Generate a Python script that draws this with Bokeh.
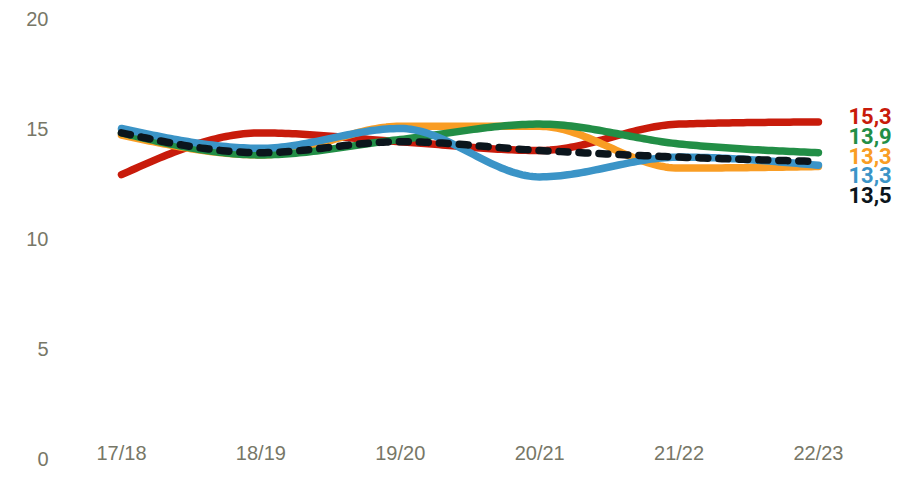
import numpy as np
from bokeh.plotting import figure
from bokeh.models import FixedTicker, Range1d, ColumnDataSource
from bokeh.core.properties import value
from bokeh.embed import file_html
from bokeh.resources import INLINE

# ---- data ----
seasons = ["17/18", "18/19", "19/20", "20/21", "21/22", "22/23"]
red = [12.9, 14.8, 14.4, 14.0, 15.2, 15.3]
orange = [14.7, 13.8, 15.1, 15.1, 13.2, 13.27]
green = [14.8, 13.8, 14.5, 15.2, 14.3, 13.9]
blue = [15.0, 14.1, 15.0, 12.8, 13.7, 13.33]
black = [14.8, 13.9, 14.4, 14.0, 13.7, 13.5]
y_ticks = [0, 5, 10, 15, 20]

series = [
    ("red", red, "#c81b0b"),
    ("orange", orange, "#f99d24"),
    ("green", green, "#228e46"),
    ("blue", blue, "#3b94c7"),
]
label_order = [(red, "#c81b0b"), (green, "#228e46"), (orange, "#f99d24"),
               (blue, "#3b94c7"), (black, "#0b151c")]


def monotone_curve(ys, n=40):
    """Render a monotone-x cubic curve through the points (like d3.curveMonotoneX)."""
    x = np.arange(len(ys), dtype=float)
    y = np.asarray(ys, dtype=float)
    h = np.diff(x)
    s = np.diff(y) / h
    t = np.zeros(len(y))
    for i in range(1, len(y) - 1):
        p = (s[i - 1] * h[i] + s[i] * h[i - 1]) / (h[i - 1] + h[i])
        t[i] = (np.sign(s[i - 1]) + np.sign(s[i])) * min(abs(s[i - 1]), abs(s[i]), 0.5 * abs(p))
    t[0] = (3 * s[0] - t[1]) / 2
    t[-1] = (3 * s[-1] - t[-2]) / 2
    xs, out = [], []
    for i in range(len(y) - 1):
        u = np.linspace(0, 1, n, endpoint=(i == len(y) - 2))
        h00 = 2 * u**3 - 3 * u**2 + 1
        h10 = u**3 - 2 * u**2 + u
        h01 = -2 * u**3 + 3 * u**2
        h11 = u**3 - u**2
        xs.extend(x[i] + u * h[i])
        out.extend(h00 * y[i] + h10 * h[i] * t[i] + h01 * y[i + 1] + h11 * h[i] * t[i + 1])
    return xs, out


def spread(vals, gap):
    clusters = []
    for i, v in enumerate(vals):
        clusters.append([[i], v])
        while len(clusters) > 1:
            a, b = clusters[-2], clusters[-1]
            a_bottom = a[1] - (len(a[0]) - 1) / 2 * gap
            b_top = b[1] + (len(b[0]) - 1) / 2 * gap
            if a_bottom - b_top < gap - 1e-9:
                idx = a[0] + b[0]
                clusters[-2:] = [[idx, float(np.mean([vals[k] for k in idx]))]]
            else:
                break
    pos = [0.0] * len(vals)
    for idx, m in clusters:
        n = len(idx)
        for j, k in enumerate(idx):
            pos[k] = m + ((n - 1) / 2 - j) * gap
    return pos


p = figure(width=907, height=484, output_backend="svg", toolbar_location=None,
           x_range=Range1d(-0.452, 5.567), y_range=Range1d(0, 20),
           min_border_left=58, min_border_right=10, min_border_top=18, min_border_bottom=26)
p.outline_line_color = None
p.grid.visible = False
p.background_fill_color = "white"
p.border_fill_color = "white"

for name, ys, col in series:
    xs, cy = monotone_curve(ys)
    p.line(xs, cy, line_color=col, line_width=7.5, line_cap="round", line_join="round")

xs, cy = monotone_curve(black)
p.line(xs, cy, line_color="#0b151c", line_width=7.5, line_dash="9 11",
       line_cap="round", line_join="round")

last = len(seasons) - 1
lab_vals = [v[-1] for v, c in label_order]
lab_pos = spread(lab_vals, 0.9)
src = ColumnDataSource(dict(
    x=[last] * len(label_order), y=lab_pos,
    t=[f"{v:.1f}".replace(".", ",") for v in lab_vals],
    c=[c for v, c in label_order]))
p.text(x="x", y="y", text="t", text_color="c", source=src, x_offset=30, y_offset=2,
       text_font=value("Roboto"), text_font_style="bold", text_font_size="22px",
       text_baseline="middle", text_align="left")

p.xaxis.ticker = FixedTicker(ticks=list(range(len(seasons))))
p.xaxis.major_label_overrides = {i: s for i, s in enumerate(seasons)}
p.xaxis.major_label_standoff = -23
p.xaxis.major_label_text_font = "Liberation Sans"
p.xaxis.major_label_text_font_size = "20px"
p.yaxis.ticker = FixedTicker(ticks=y_ticks)
p.yaxis.major_label_standoff = 4
p.yaxis.major_label_text_font = "Liberation Sans"
p.yaxis.major_label_text_font_size = "20px"
for ax in (p.xaxis, p.yaxis):
    ax.axis_line_color = None
    ax.major_tick_line_color = None
    ax.minor_tick_line_color = None
    ax.major_label_text_color = "#777767"

open("out.html", "w").write(file_html(p, INLINE))
